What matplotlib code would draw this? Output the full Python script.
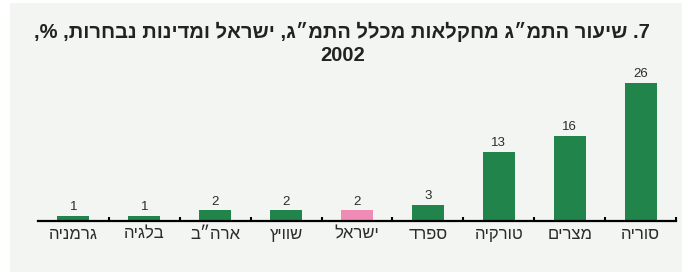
import matplotlib.pyplot as plt
from matplotlib.patches import Rectangle
import re

plt.rcParams['font.family'] = ['Liberation Sans', 'DejaVu Sans']


def visual(s):
    # matplotlib has no bidi support: flip the string and put digit runs back
    r = s[::-1]
    return re.sub(r'\d+', lambda m: m.group(0)[::-1], r)


# data
countries = ['גרמניה', 'בלגיה', 'ארה״ב', 'שוויץ', 'ישראל', 'ספרד', 'טורקיה', 'מצרים', 'סוריה']
values = [1, 1, 2, 2, 2, 3, 13, 16, 26]
highlight = 'ישראל'

title_line1 = '7. שיעור התמ״ג מחקלאות מכלל התמ״ג, ישראל ומדינות נבחרות, %,'
title_line2 = '2002'

green = '#21844a'
pink = '#f08bb5'
bg = '#f3f5f2'
txt = '#2b2b2b'

fig = plt.figure(figsize=(6.82, 2.72), dpi=100, facecolor='white')
fig.patches.append(Rectangle((10 / 682, 0), 1, 1 - 3 / 272, transform=fig.transFigure,
                             facecolor=bg, edgecolor='none', zorder=-10))

ax = fig.add_axes([38 / 682, 51 / 272, 638 / 682, 138 / 272])
ax.set_facecolor('none')
ax.set_zorder(2)

x = list(range(len(countries)))
colors = [pink if c == highlight else green for c in countries]
bars = ax.bar(x, values, width=0.45, color=colors, zorder=2)

for xi, v in zip(x, values):
    ax.annotate(str(v), (xi, v), xytext=(0, 2), textcoords='offset points',
                ha='center', va='bottom', fontsize=9.5, color=txt)

ax.set_xlim(-0.5, len(countries) - 0.5)
ax.set_ylim(0, 26)

for side in ['top', 'right', 'left']:
    ax.spines[side].set_visible(False)
ax.spines['bottom'].set_linewidth(1.6)
ax.spines['bottom'].set_color('black')
ax.spines['bottom'].set_zorder(3)

ax.set_yticks([])
ax.set_xticks([i + 0.5 for i in x])
ax.tick_params(axis='x', direction='in', length=3, width=1.5, labelbottom=False)
ax.set_xticks(x, minor=True)
ax.set_xticklabels([visual(c) for c in countries], minor=True, fontsize=12, color=txt)
ax.tick_params(axis='x', which='minor', length=0, pad=4)

fig.text(0.502, 1 - 32 / 272, visual(title_line1), ha='center', va='center',
         fontsize=14.5, fontweight='bold', color='#222222')
fig.text(0.502, 1 - 56 / 272, title_line2, ha='center', va='center',
         fontsize=14.5, fontweight='bold', color='#222222')

fig.savefig('out.png', dpi=100, facecolor=fig.get_facecolor())
